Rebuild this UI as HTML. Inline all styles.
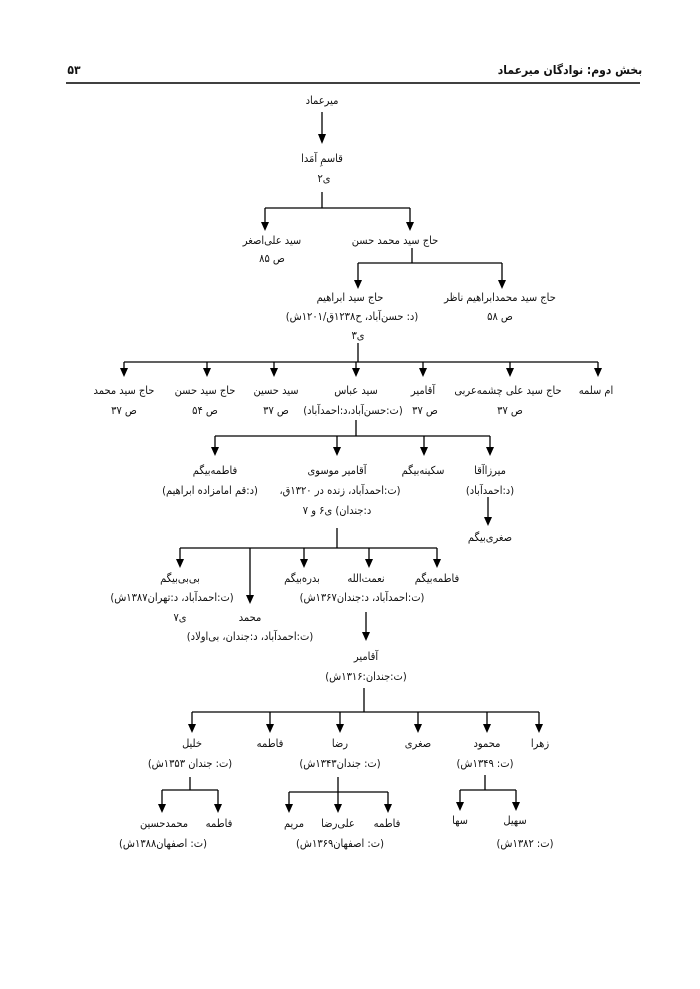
<!DOCTYPE html>
<html><head><meta charset="utf-8"><style>
html,body{margin:0;padding:0;background:#fff;width:700px;height:989px;overflow:hidden}
svg text{font-family:"DejaVu Sans Condensed","DejaVu Sans",sans-serif;font-stretch:condensed;font-size:11px;fill:#111;text-anchor:middle;direction:rtl;unicode-bidi:embed}
</style></head><body>
<svg width="700" height="989" xmlns="http://www.w3.org/2000/svg">
<text x="570" y="74" style="font-weight:bold;font-size:12px">بخش دوم: نوادگان میرعماد</text>
<text x="74" y="74" style="font-weight:bold;font-size:12px">۵۳</text>
<line x1="66" y1="83" x2="640" y2="83" stroke="#000" stroke-width="1.5"/>
<g stroke="#000" stroke-width="1.3" fill="none">
<path d="M322 112V134"/>
<path d="M322 192V208M265 208H410M265 208V222M410 208V222"/>
<path d="M412 248V263M358 263H502M358 263V280M502 263V280"/>
<path d="M358 343V362M124 362H598M124 362V368M207 362V368M274 362V368M356 362V368M423 362V368M510 362V368M598 362V368"/>
<path d="M356 420V436M215 436H490M215 436V447M337 436V447M424 436V447M490 436V447"/>
<path d="M488 497V517"/>
<path d="M337 528V548M180 548H437M180 548V559M250 548V595M304 548V559M369 548V559M437 548V559"/>
<path d="M366 612V632"/>
<path d="M364 688V712M192 712H539M192 712V724M270 712V724M340 712V724M418 712V724M487 712V724M539 712V724"/>
<path d="M190 777V790M162 790H218M162 790V804M218 790V804"/>
<path d="M338 777V792M289 792H388M289 792V804M338 792V804M388 792V804"/>
<path d="M485 775V790M460 790H516M460 790V802M516 790V802"/>
</g>
<g fill="#000">
<path d="M318 134h8l-4 10z"/>
<path d="M261 222h8l-4 9zM406 222h8l-4 9z"/>
<path d="M354 280h8l-4 9zM498 280h8l-4 9z"/>
<path d="M120 368h8l-4 9zM203 368h8l-4 9zM270 368h8l-4 9zM352 368h8l-4 9zM419 368h8l-4 9zM506 368h8l-4 9zM594 368h8l-4 9z"/>
<path d="M211 447h8l-4 9zM333 447h8l-4 9zM420 447h8l-4 9zM486 447h8l-4 9z"/>
<path d="M484 517h8l-4 9z"/>
<path d="M176 559h8l-4 9zM246 595h8l-4 9zM300 559h8l-4 9zM365 559h8l-4 9zM433 559h8l-4 9z"/>
<path d="M362 632h8l-4 9z"/>
<path d="M188 724h8l-4 9zM266 724h8l-4 9zM336 724h8l-4 9zM414 724h8l-4 9zM483 724h8l-4 9zM535 724h8l-4 9z"/>
<path d="M158 804h8l-4 9zM214 804h8l-4 9zM285 804h8l-4 9zM334 804h8l-4 9zM384 804h8l-4 9zM456 802h8l-4 9zM512 802h8l-4 9z"/>
</g>
<text x="322" y="104">میرعماد</text>
<text x="322" y="162">قاسمِ آمَدا</text>
<text x="324" y="182">ی۲</text>
<text x="272" y="244">سید علی‌اصغر</text>
<text x="272" y="262">ص ۸۵</text>
<text x="395" y="244">حاج سید محمد حسن</text>
<text x="350" y="301">حاج سید ابراهیم</text>
<text x="352" y="320">(د: حسن‌آباد، ح۱۲۳۸ق/۱۲۰۱ش)</text>
<text x="358" y="339">ی۳</text>
<text x="500" y="301">حاج سید محمدابراهیم ناظر</text>
<text x="500" y="320">ص ۵۸</text>
<text x="124" y="394">حاج سید محمد</text>
<text x="205" y="394">حاج سید حسن</text>
<text x="276" y="394">سید حسین</text>
<text x="356" y="394">سید عباس</text>
<text x="423" y="394">آقامیر</text>
<text x="508" y="394">حاج سید علی چشمه‌عربی</text>
<text x="596" y="394">ام سلمه</text>
<text x="124" y="414">ص ۳۷</text>
<text x="205" y="414">ص ۵۴</text>
<text x="276" y="414">ص ۳۷</text>
<text x="353" y="414">(ت:حسن‌آباد،د:احمدآباد)</text>
<text x="425" y="414">ص ۳۷</text>
<text x="510" y="414">ص ۳۷</text>
<text x="215" y="474">فاطمه‌بیگم</text>
<text x="337" y="474">آقامیر موسوی</text>
<text x="423" y="474">سکینه‌بیگم</text>
<text x="490" y="474">میرزاآقا</text>
<text x="210" y="494">(د:قم امامزاده ابراهیم)</text>
<text x="340" y="494">(ت:احمدآباد، زنده در ۱۳۲۰ق،</text>
<text x="490" y="494">(د:احمدآباد)</text>
<text x="337" y="514">د:جندان) ی۶ و ۷</text>
<text x="490" y="541">صغری‌بیگم</text>
<text x="180" y="582">بی‌بی‌بیگم</text>
<text x="302" y="582">بدره‌بیگم</text>
<text x="366" y="582">نعمت‌الله</text>
<text x="437" y="582">فاطمه‌بیگم</text>
<text x="172" y="601">(ت:احمدآباد، د:تهران۱۳۸۷ش)</text>
<text x="362" y="601">(ت:احمدآباد، د:جندان۱۳۶۷ش)</text>
<text x="180" y="621">ی۷</text>
<text x="250" y="621">محمد</text>
<text x="250" y="640">(ت:احمدآباد، د:جندان، بی‌اولاد)</text>
<text x="366" y="660">آقامیر</text>
<text x="366" y="680">(ت:جندان:۱۳۱۶ش)</text>
<text x="192" y="747">خلیل</text>
<text x="270" y="747">فاطمه</text>
<text x="340" y="747">رضا</text>
<text x="418" y="747">صغری</text>
<text x="487" y="747">محمود</text>
<text x="540" y="747">زهرا</text>
<text x="190" y="767">(ت: جندان ۱۳۵۳ش)</text>
<text x="340" y="767">(ت: جندان۱۳۴۳ش)</text>
<text x="485" y="767">(ت: ۱۳۴۹ش)</text>
<text x="164" y="827">محمدحسین</text>
<text x="219" y="827">فاطمه</text>
<text x="294" y="827">مریم</text>
<text x="338" y="827">علی‌رضا</text>
<text x="387" y="827">فاطمه</text>
<text x="460" y="824">سها</text>
<text x="515" y="824">سهیل</text>
<text x="163" y="847">(ت: اصفهان۱۳۸۸ش)</text>
<text x="340" y="847">(ت: اصفهان۱۳۶۹ش)</text>
<text x="525" y="847">(ت: ۱۳۸۲ش)</text>
</svg>
</body></html>
